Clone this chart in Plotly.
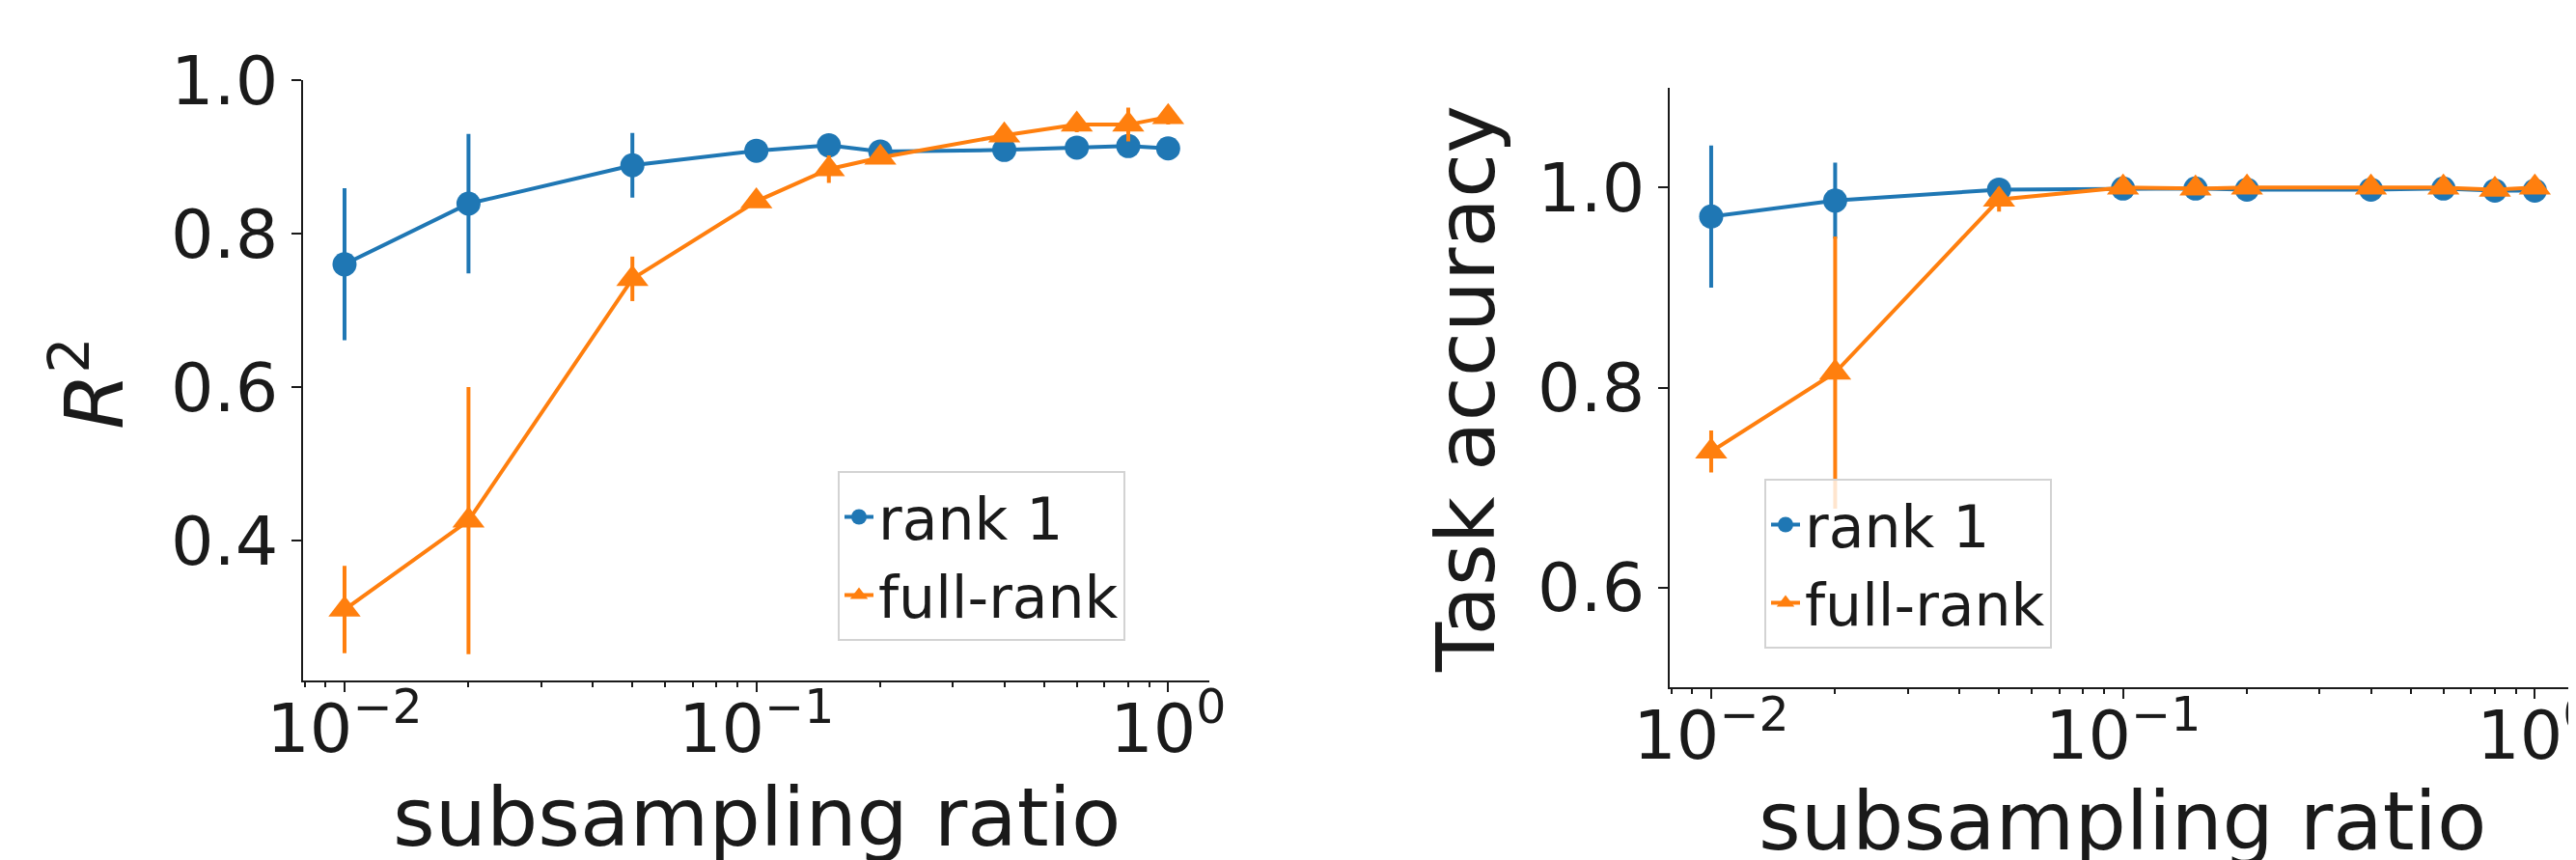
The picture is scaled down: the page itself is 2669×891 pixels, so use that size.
import plotly.graph_objects as go

# ---- data ----
ratios = [0.01, 0.02, 0.05, 0.1, 0.15, 0.2, 0.4, 0.6, 0.8, 1.0]

r2_rank1 = [0.760, 0.839, 0.889, 0.908, 0.915, 0.907, 0.909, 0.912, 0.914, 0.911]
r2_rank1_err = [0.099, 0.091, 0.042, 0.008, 0.006, 0.006, 0.005, 0.005, 0.006, 0.005]
r2_full = [0.310, 0.426, 0.741, 0.842, 0.884, 0.899, 0.928, 0.942, 0.942, 0.952]
r2_full_err = [0.057, 0.174, 0.029, 0.008, 0.018, 0.008, 0.008, 0.010, 0.022, 0.010]

acc_rank1 = [0.971, 0.987, 0.998, 0.999, 0.999, 0.998, 0.998, 0.999, 0.997, 0.997]
acc_rank1_err = [0.071, 0.038, 0.004, 0.002, 0.002, 0.002, 0.002, 0.002, 0.003, 0.003]
acc_full = [0.736, 0.815, 0.988, 1.000, 0.999, 1.000, 1.000, 1.000, 0.998, 1.000]
acc_full_err = [0.021, 0.136, 0.012, 0.002, 0.002, 0.002, 0.002, 0.002, 0.003, 0.002]

series_names = ["rank 1", "full-rank"]
x_tickvals = [0.01, 0.1, 1.0]
x_ticktext = ["10<sup>\u22122</sup>", "10<sup>\u22121</sup>", "10<sup>0</sup>"]
r2_ticks = [0.4, 0.6, 0.8, 1.0]
acc_ticks = [0.6, 0.8, 1.0]
x_title = "subsampling ratio"
y_titles = ["<i>R</i><sup>2</sup>", "Task accuracy"]

BLUE = "#1f77b4"
ORANGE = "#ff7f0e"
TXT = "#1a1a1a"
W, H = 2669, 891

fig = go.Figure()


def add_pair(ys, errs, xa, ya, leg):
    for name, y, e, col, sym, sz in zip(series_names, ys, errs, [BLUE, ORANGE],
                                        ["circle", "triangle-up"], [25, 29]):
        fig.add_trace(go.Scatter(
            x=ratios, y=y, name=name, mode="lines+markers",
            line=dict(color=col, width=4),
            marker=dict(color=col, symbol=sym, size=sz, line=dict(width=0)),
            error_y=dict(type="data", array=e, visible=True, color=col,
                         thickness=4, width=0),
            xaxis=xa, yaxis=ya, legend=leg,
        ))


add_pair([r2_rank1, r2_full], [r2_rank1_err, r2_full_err], "x", "y", "legend")
add_pair([acc_rank1, acc_full], [acc_rank1_err, acc_full_err], "x2", "y2", "legend2")

axis_common = dict(showline=True, linecolor=TXT, linewidth=2, ticks="outside",
                   ticklen=10, tickwidth=2, tickcolor=TXT, showgrid=False,
                   zeroline=False, automargin=False, tickfont=dict(size=70, color=TXT))
xaxis_common = dict(axis_common, type="log", range=[-2.1, 0.1],
                    tickvals=x_tickvals, ticktext=x_ticktext,
                    ticklabeloverflow="allow", ticklabelstandoff=-22,
                    minor=dict(ticks="outside", ticklen=5, tickwidth=2,
                               tickcolor=TXT, dtick="D1", showgrid=False))

legend_common = dict(bgcolor="rgba(255,255,255,0.8)", bordercolor="#d3d3d3",
                     borderwidth=2, font=dict(size=60, color=TXT),
                     xanchor="left", yanchor="top")

fig.update_layout(
    width=W, height=H, margin=dict(l=0, r=0, t=0, b=0, autoexpand=False),
    paper_bgcolor="white", plot_bgcolor="white",
    font=dict(family="DejaVu Sans", color=TXT),
    xaxis=dict(xaxis_common, domain=[306.3 / W, 1245 / W], anchor="y"),
    yaxis=dict(axis_common, range=[0.218, 1.0], domain=[1 - 696.7 / H, 1 - 75 / H],
               anchor="x", tickvals=r2_ticks, tickformat=".1f"),
    xaxis2=dict(xaxis_common, domain=[1722.3 / W, 2661 / W], anchor="y2"),
    yaxis2=dict(axis_common, range=[0.5, 1.1], domain=[1 - 704.4 / H, 1 - 82.7 / H],
                anchor="x2", tickvals=acc_ticks, tickformat=".1f"),
    legend=dict(legend_common, x=860 / W, y=1 - 480 / H),
    legend2=dict(legend_common, x=1820 / W, y=1 - 488 / H),
)

# axis titles
fig.add_annotation(text=x_title, xref="paper", yref="paper", x=776 / W, y=1 - 788 / H,
                   xanchor="center", yanchor="top", showarrow=False,
                   font=dict(size=84, color=TXT))
fig.add_annotation(text=x_title, xref="paper", yref="paper", x=2191 / W, y=1 - 792 / H,
                   xanchor="center", yanchor="top", showarrow=False,
                   font=dict(size=84, color=TXT))
fig.add_annotation(text=y_titles[0], xref="paper", yref="paper", x=141 / W, y=1 - 389 / H,
                   xanchor="right", yanchor="middle", showarrow=False, textangle=-90,
                   font=dict(size=84, color=TXT))
fig.add_annotation(text=y_titles[1], xref="paper", yref="paper", x=1562 / W, y=1 - 395 / H,
                   xanchor="right", yanchor="middle", showarrow=False, textangle=-90,
                   font=dict(size=84, color=TXT))

fig.write_html("out.html")
